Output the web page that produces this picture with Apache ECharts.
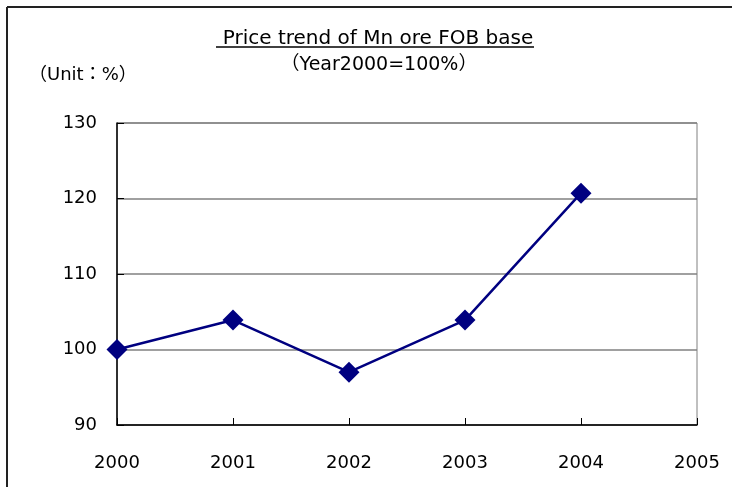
<!DOCTYPE html>
<html>
<head>
<meta charset="utf-8">
<script src="https://cdn.jsdelivr.net/npm/echarts@6/dist/echarts.min.js"></script>
<style>
html,body{margin:0;padding:0;background:#fff;}
#chart{width:732px;height:487px;}
</style>
</head>
<body>
<div id="chart"></div>
<script>
var years=['2000','2001','2002','2003','2004','2005'];
var priceIndex=[100,103.9,97,103.9,120.7];
var yTicks={min:90,max:130,interval:10};

var font='"DejaVu Sans", "Noto Sans CJK JP", sans-serif';
var chart=echarts.init(document.getElementById('chart'));
var option={
    backgroundColor:'#fff',
    animation:false,
    title:[{
        text:'Price trend of Mn ore FOB base',
        left:373,top:24,textAlign:'center',
        textStyle:{fontFamily:font,fontSize:20,fontWeight:'normal',color:'#000'}
    },{
        text:'（Year2000=100%）',
        left:374,top:51,textAlign:'center',
        textStyle:{fontFamily:font,fontSize:19,fontWeight:'normal',color:'#000'}
    },{
        text:'（Unit：%）',
        left:24,top:61,
        textStyle:{fontFamily:font,fontSize:18,fontWeight:'normal',color:'#000'}
    }],
    graphic:[{
        type:'line',
        shape:{x1:7,y1:7,x2:732,y2:7},
        style:{stroke:'#222',lineWidth:2},
        silent:true
    },{
        type:'line',
        shape:{x1:7,y1:7,x2:7,y2:487},
        style:{stroke:'#222',lineWidth:2},
        silent:true
    },{
        type:'line',
        shape:{x1:216,y1:47,x2:534,y2:47},
        style:{stroke:'#000',lineWidth:1.5},
        silent:true
    }],
    grid:{left:117,right:35,top:123,bottom:62,show:true,borderColor:'#808080',borderWidth:1},
    xAxis:{
        type:'category',
        data:years,
        boundaryGap:false,
        axisLine:{lineStyle:{color:'#000',width:1.5}},
        axisTick:{inside:true,length:7,lineStyle:{color:'#000'}},
        axisLabel:{fontFamily:font,fontSize:18,color:'#000',margin:29,interval:0}
    },
    yAxis:{
        type:'value',
        min:yTicks.min,max:yTicks.max,interval:yTicks.interval,
        axisLine:{show:true,lineStyle:{color:'#000',width:1.5}},
        axisTick:{show:true,inside:true,length:7,lineStyle:{color:'#000'}},
        axisLabel:{fontFamily:font,fontSize:18,color:'#000',margin:20,padding:[4,0,0,0]},
        splitLine:{lineStyle:{color:'#808080',width:1.5}}
    },
    series:[{
        type:'line',
        data:priceIndex,
        symbol:'diamond',
        symbolSize:21,
        lineStyle:{color:'#000080',width:2.5},
        itemStyle:{color:'#000080'}
    }]
};
chart.setOption(option);
</script>
</body>
</html>
